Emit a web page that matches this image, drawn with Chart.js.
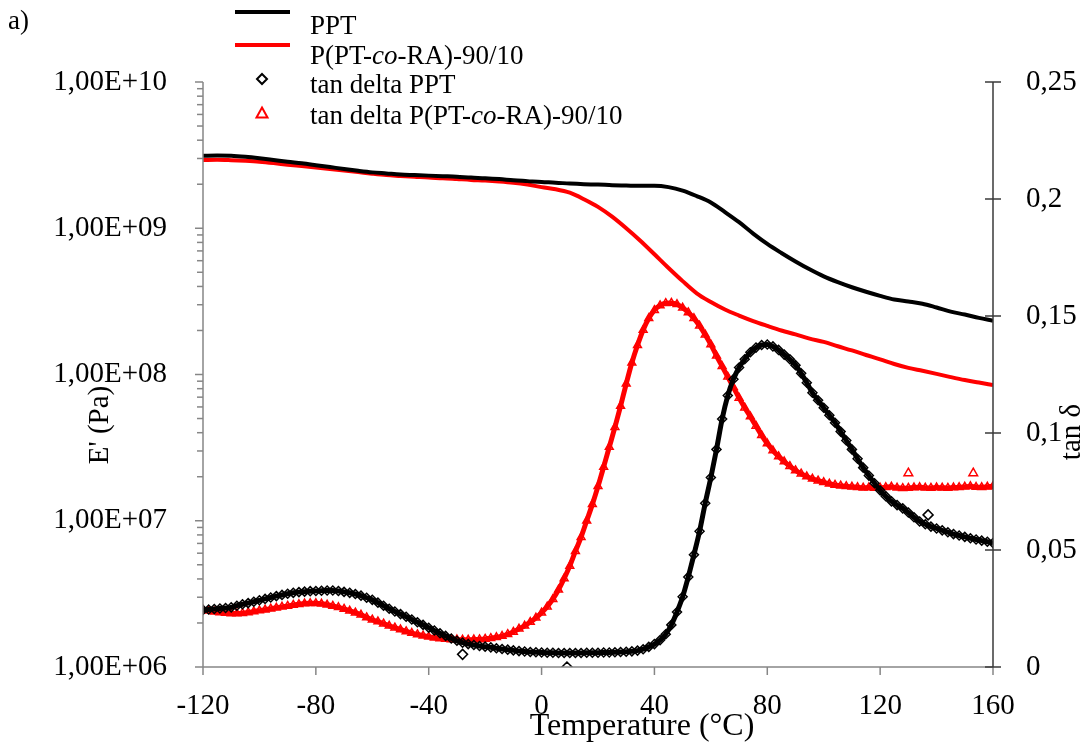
<!DOCTYPE html>
<html>
<head>
<meta charset="utf-8">
<script src="https://cdn.jsdelivr.net/npm/chart.js@4.4.1/dist/chart.umd.min.js"></script>
<style>
  body { margin: 0; background: #fff; }
  canvas { display: block; }
</style>
</head>
<body>
<canvas id="dmaChart" width="1086" height="752"></canvas>
<script>
const tempModule = [-120, -115, -110, -105, -100, -95, -90, -85, -80, -75, -70, -65, -60, -55, -50, -45, -40, -35, -30, -25,
  -20, -15, -10, -5, 0, 5, 10, 15, 20, 25, 30, 35, 40, 45, 50, 55, 60, 65, 70, 75,
  80, 85, 90, 95, 100, 105, 110, 115, 120, 125, 130, 135, 140, 145, 150, 155, 160];
const modulePPT = [3.13e9, 3.14e9, 3.13e9, 3.08e9, 3.01e9, 2.93e9, 2.85e9, 2.78e9, 2.70e9, 2.62e9, 2.54e9, 2.47e9, 2.41e9, 2.37e9, 2.33e9, 2.31e9, 2.29e9, 2.27e9, 2.25e9, 2.22e9,
  2.20e9, 2.17e9, 2.13e9, 2.10e9, 2.07e9, 2.05e9, 2.02e9, 2.00e9, 1.99e9, 1.97e9, 1.96e9, 1.95e9, 1.95e9, 1.91e9, 1.81e9, 1.66e9, 1.50e9, 1.29e9, 1.10e9, 9.2e8,
  7.82e8, 6.78e8, 5.93e8, 5.24e8, 4.69e8, 4.28e8, 3.95e8, 3.68e8, 3.45e8, 3.26e8, 3.16e8, 3.05e8, 2.87e8, 2.69e8, 2.57e8, 2.44e8, 2.33e8];
const moduleCo = [2.93e9, 2.94e9, 2.92e9, 2.89e9, 2.85e9, 2.79e9, 2.72e9, 2.66e9, 2.60e9, 2.54e9, 2.48e9, 2.42e9, 2.36e9, 2.31e9, 2.28e9, 2.25e9, 2.22e9, 2.20e9, 2.17e9, 2.14e9,
  2.12e9, 2.09e9, 2.05e9, 1.99e9, 1.91e9, 1.85e9, 1.75e9, 1.58e9, 1.40e9, 1.20e9, 1.00e9, 8.22e8, 6.64e8, 5.35e8, 4.35e8, 3.59e8, 3.13e8, 2.78e8, 2.53e8, 2.32e8,
  2.15e8, 2.00e8, 1.88e8, 1.76e8, 1.67e8, 1.56e8, 1.46e8, 1.36e8, 1.27e8, 1.18e8, 1.11e8, 1.06e8, 1.01e8, 9.6e7, 9.16e7, 8.81e7, 8.47e7];

// tan delta, lu tous les 2 °C
const tempTan = [-120, -118, -116, -114, -112, -110, -108, -106, -104, -102,
  -100, -98, -96, -94, -92, -90, -88, -86, -84, -82,
  -80, -78, -76, -74, -72, -70, -68, -66, -64, -62,
  -60, -58, -56, -54, -52, -50, -48, -46, -44, -42,
  -40, -38, -36, -34, -32, -30, -28, -26, -24, -22,
  -20, -18, -16, -14, -12, -10, -8, -6, -4, -2,
  0, 2, 4, 6, 8, 10, 12, 14, 16, 18,
  20, 22, 24, 26, 28, 30, 32, 34, 36, 38,
  40, 42, 44, 46, 48, 50, 52, 54, 56, 58,
  60, 62, 64, 66, 68, 70, 72, 74, 76, 78,
  80, 82, 84, 86, 88, 90, 92, 94, 96, 98,
  100, 102, 104, 106, 108, 110, 112, 114, 116, 118,
  120, 122, 124, 126, 128, 130, 132, 134, 136, 138,
  140, 142, 144, 146, 148, 150, 152, 154, 156, 158,
  160];
const tanPPT = [0.0244, 0.0246, 0.0248, 0.0250, 0.0252, 0.0255, 0.0262, 0.0268, 0.0273, 0.0279,
  0.0285, 0.0291, 0.0297, 0.0303, 0.0308, 0.0313, 0.0317, 0.0320, 0.0322, 0.0324,
  0.0325, 0.0326, 0.0327, 0.0327, 0.0325, 0.0321, 0.0317, 0.0312, 0.0305, 0.0296,
  0.0287, 0.0275, 0.0262, 0.0249, 0.0237, 0.0226, 0.0215, 0.0203, 0.0191, 0.0180,
  0.0168, 0.0156, 0.0144, 0.0133, 0.0122, 0.0112, 0.0104, 0.0098, 0.0094, 0.0090,
  0.0087, 0.0084, 0.0080, 0.0077, 0.0074, 0.0071, 0.0068, 0.0066, 0.0064, 0.0063,
  0.0062, 0.0061, 0.0061, 0.0060, 0.0060, 0.0060, 0.0060, 0.0060, 0.0061, 0.0061,
  0.0061, 0.0062, 0.0062, 0.0063, 0.0064, 0.0065, 0.0067, 0.0070, 0.0076, 0.0086,
  0.0098, 0.0115, 0.0140, 0.0180, 0.0235, 0.0300, 0.0385, 0.0480, 0.0580, 0.0700,
  0.0810, 0.0930, 0.1060, 0.1160, 0.1230, 0.1280, 0.1315, 0.1345, 0.1365, 0.1376,
  0.1378, 0.1370, 0.1355, 0.1335, 0.1315, 0.1290, 0.1255, 0.1215, 0.1172, 0.1140,
  0.1108, 0.1076, 0.1044, 0.1006, 0.0968, 0.0930, 0.0890, 0.0852, 0.0818, 0.0785,
  0.0755, 0.0730, 0.0708, 0.0692, 0.0678, 0.0660, 0.0640, 0.0622, 0.0610, 0.0600,
  0.0592, 0.0584, 0.0576, 0.0568, 0.0562, 0.0556, 0.0550, 0.0545, 0.0540, 0.0535,
  0.0530];
const tanCo = [0.0244, 0.0240, 0.0236, 0.0233, 0.0231, 0.0229, 0.0229, 0.0230, 0.0233, 0.0237,
  0.0241, 0.0245, 0.0249, 0.0253, 0.0257, 0.0261, 0.0265, 0.0268, 0.0271, 0.0272,
  0.0272, 0.0270, 0.0266, 0.0261, 0.0255, 0.0248, 0.0240, 0.0232, 0.0223, 0.0212,
  0.0202, 0.0194, 0.0185, 0.0176, 0.0168, 0.0160, 0.0152, 0.0145, 0.0139, 0.0134,
  0.0129, 0.0125, 0.0122, 0.0120, 0.0118, 0.0117, 0.0116, 0.0116, 0.0117, 0.0118,
  0.0120, 0.0123, 0.0127, 0.0132, 0.0140, 0.0150, 0.0163, 0.0176, 0.0192, 0.0210,
  0.0232, 0.0258, 0.0290, 0.0330, 0.0378, 0.0432, 0.0495, 0.0555, 0.0625, 0.0695,
  0.0772, 0.0855, 0.0940, 0.1025, 0.1115, 0.1210, 0.1300, 0.1375, 0.1440, 0.1490,
  0.1525, 0.1545, 0.1555, 0.1556, 0.1550, 0.1535, 0.1515, 0.1490, 0.1458, 0.1420,
  0.1378, 0.1330, 0.1285, 0.1240, 0.1195, 0.1150, 0.1108, 0.1070, 0.1030, 0.0990,
  0.0955, 0.0925, 0.0900, 0.0878, 0.0858, 0.0840, 0.0826, 0.0814, 0.0804, 0.0796,
  0.0789, 0.0783, 0.0778, 0.0775, 0.0772, 0.0770, 0.0768, 0.0766, 0.0767, 0.0765,
  0.0766, 0.0768, 0.0770, 0.0766, 0.0764, 0.0765, 0.0767, 0.0768, 0.0766, 0.0765,
  0.0767, 0.0766, 0.0765, 0.0767, 0.0768, 0.0770, 0.0772, 0.0769, 0.0768, 0.0770,
  0.0772];

// Points isolés (hors de la bande principale)
const tempIsolesPPT = [-28, 9, 137];
const tanIsolesPPT = [0.0054, 0.0, 0.065];
const tempIsolesCo = [130, 153];
const tanIsolesCo = [0.0828, 0.0828];

// Graduations
const xTicks = [-120, -80, -40, 0, 40, 80, 120, 160];
const yTicks = [1e6, 1e7, 1e8, 1e9, 1e10];
const yTickLabels = ['1,00E+06', '1,00E+07', '1,00E+08', '1,00E+09', '1,00E+10'];
const y2Ticks = [0, 0.05, 0.1, 0.15, 0.2, 0.25];
const y2TickLabels = ['0', '0,05', '0,1', '0,15', '0,2', '0,25'];

const POLICE = "'Liberation Serif', 'Times New Roman', serif";
const ROUGE = '#ff0000';

function points(xs, ys) {
    return xs.map((x, i) => ({ x: x, y: ys[i] }));
}

function ligne(ctx, x1, y1, x2, y2) {
    ctx.beginPath();
    ctx.moveTo(x1, y1);
    ctx.lineTo(x2, y2);
    ctx.stroke();
}

function texteMixte(ctx, morceaux, x, y, taille) {
    let cx = x;
    morceaux.forEach(([t, italique]) => {
        ctx.font = (italique ? 'italic ' : '') + taille + 'px ' + POLICE;
        ctx.fillText(t, cx, y);
        cx += ctx.measureText(t).width;
    });
}

function losange(ctx, x, y, r) {
    ctx.beginPath();
    ctx.moveTo(x, y - r);
    ctx.lineTo(x + r, y);
    ctx.lineTo(x, y + r);
    ctx.lineTo(x - r, y);
    ctx.closePath();
    ctx.stroke();
}

function triangle(ctx, x, y, r) {
    ctx.beginPath();
    ctx.moveTo(x, y - r);
    ctx.lineTo(x + r, y + r * 0.8);
    ctx.lineTo(x - r, y + r * 0.8);
    ctx.closePath();
    ctx.stroke();
}

// Axes, graduations, titres et légende dessinés à la main
const habillage = {
    id: 'habillage',
    afterDraw(chart) {
        const ctx = chart.ctx;
        const { left, right, top, bottom } = chart.chartArea;
        const sx = chart.scales.x, sy = chart.scales.y, sy2 = chart.scales.y2;
        ctx.save();

        // axe gauche (log) avec petites graduations
        ctx.strokeStyle = '#868686';
        ctx.lineWidth = 1.5;
        ligne(ctx, left, top, left, bottom);
        yTicks.forEach((v, i) => {
            const py = sy.getPixelForValue(v);
            ligne(ctx, left - 8, py, left, py);
            if (i < yTicks.length - 1) {
                for (let k = 2; k <= 9; k++) {
                    const pm = sy.getPixelForValue(v * k);
                    ligne(ctx, left - 6, pm, left, pm);
                }
            }
        });

        // axe du bas
        ligne(ctx, left, bottom, right, bottom);
        xTicks.forEach(v => {
            const px = sx.getPixelForValue(v);
            ligne(ctx, px, bottom, px, bottom + 8);
        });

        // axe droit
        ctx.strokeStyle = '#3a3a3a';
        ligne(ctx, right, top, right, bottom);
        y2Ticks.forEach(v => {
            const py = sy2.getPixelForValue(v);
            ligne(ctx, right - 8, py, right + 8, py);
        });

        // titres des axes
        ctx.fillStyle = '#000';
        ctx.textAlign = 'center';
        ctx.textBaseline = 'middle';
        ctx.font = '32px ' + POLICE;
        ctx.fillText('Temperature (°C)', 642, 727);
        ctx.font = '29px ' + POLICE;
        ctx.save();
        ctx.translate(100, 425);
        ctx.rotate(-Math.PI / 2);
        ctx.fillText("E' (Pa)", 0, 0);
        ctx.restore();
        ctx.save();
        ctx.translate(1072, 432);
        ctx.rotate(-Math.PI / 2);
        ctx.fillText('tan δ', 0, 0);
        ctx.restore();

        // repère de la figure
        ctx.textAlign = 'left';
        ctx.font = '27px ' + POLICE;
        ctx.fillText('a)', 8, 22);

        // légende
        ctx.lineWidth = 4;
        ctx.strokeStyle = '#000';
        ligne(ctx, 235, 12, 290, 12);
        ctx.strokeStyle = ROUGE;
        ligne(ctx, 235, 45, 290, 45);
        ctx.lineWidth = 2;
        ctx.strokeStyle = '#000';
        losange(ctx, 262, 79, 5);
        ctx.strokeStyle = ROUGE;
        triangle(ctx, 262, 113, 5.5);

        ctx.fillStyle = '#000';
        ctx.textBaseline = 'middle';
        texteMixte(ctx, [['PPT', false]], 310, 27, 27);
        texteMixte(ctx, [['P(PT-', false], ['co', true], ['-RA)-90/10', false]], 310, 57, 27);
        texteMixte(ctx, [['tan delta PPT', false]], 310, 86, 27);
        texteMixte(ctx, [['tan delta P(PT-', false], ['co', true], ['-RA)-90/10', false]], 310, 117, 27);

        ctx.restore();
    }
};

const ctx = document.getElementById('dmaChart').getContext('2d');

new Chart(ctx, {
    type: 'line',
    data: {
        datasets: [
            {
                label: 'PPT',
                data: points(tempModule, modulePPT),
                yAxisID: 'y',
                borderColor: '#000',
                borderWidth: 4,
                pointRadius: 0,
                cubicInterpolationMode: 'monotone'
            },
            {
                label: 'P(PT-co-RA)-90/10',
                data: points(tempModule, moduleCo),
                yAxisID: 'y',
                borderColor: ROUGE,
                borderWidth: 4,
                pointRadius: 0,
                cubicInterpolationMode: 'monotone'
            },
            {
                label: 'tan delta PPT',
                data: points(tempTan, tanPPT),
                yAxisID: 'y2',
                borderColor: '#000',
                borderWidth: 5,
                pointStyle: 'rectRot',
                pointRadius: 4.5,
                pointBorderWidth: 1.5,
                pointBorderColor: '#000',
                pointBackgroundColor: 'rgba(0,0,0,0)',
                cubicInterpolationMode: 'monotone'
            },
            {
                label: 'tan delta P(PT-co-RA)-90/10',
                data: points(tempTan, tanCo),
                yAxisID: 'y2',
                borderColor: ROUGE,
                borderWidth: 5,
                pointStyle: 'triangle',
                pointRadius: 4.5,
                pointBorderWidth: 1.5,
                pointBorderColor: ROUGE,
                pointBackgroundColor: 'rgba(0,0,0,0)',
                cubicInterpolationMode: 'monotone'
            },
            {
                label: 'isolés PPT',
                data: points(tempIsolesPPT, tanIsolesPPT),
                yAxisID: 'y2',
                showLine: false,
                pointStyle: 'rectRot',
                pointRadius: 5,
                pointBorderWidth: 1.5,
                pointBorderColor: '#000',
                pointBackgroundColor: 'rgba(0,0,0,0)'
            },
            {
                label: 'isolés co',
                data: points(tempIsolesCo, tanIsolesCo),
                yAxisID: 'y2',
                showLine: false,
                pointStyle: 'triangle',
                pointRadius: 5,
                pointBorderWidth: 1.5,
                pointBorderColor: ROUGE,
                pointBackgroundColor: 'rgba(0,0,0,0)'
            }
        ]
    },
    options: {
        responsive: false,
        animation: false,
        devicePixelRatio: 1,
        layout: { padding: { top: 82, left: 0, right: 0, bottom: 0 } },
        plugins: {
            legend: { display: false },
            tooltip: { enabled: false }
        },
        scales: {
            x: {
                type: 'linear',
                min: -120,
                max: 160,
                grid: { display: false },
                border: { display: false },
                afterBuildTicks: s => { s.ticks = xTicks.map(v => ({ value: v })); },
                afterFit: s => { s.height = 85; },
                ticks: {
                    autoSkip: false,
                    maxRotation: 0,
                    padding: 14,
                    color: '#000',
                    font: { family: POLICE, size: 29 },
                    callback: v => String(v)
                }
            },
            y: {
                type: 'logarithmic',
                position: 'left',
                min: 1e6,
                max: 1e10,
                grid: { display: false },
                border: { display: false },
                afterBuildTicks: s => { s.ticks = yTicks.map(v => ({ value: v })); },
                afterFit: s => { s.width = 203; },
                ticks: {
                    autoSkip: false,
                    padding: 28,
                    color: '#000',
                    font: { family: POLICE, size: 29 },
                    callback: (v, i) => yTickLabels[i]
                }
            },
            y2: {
                type: 'linear',
                position: 'right',
                min: 0,
                max: 0.25,
                grid: { display: false },
                border: { display: false },
                afterBuildTicks: s => { s.ticks = y2Ticks.map(v => ({ value: v })); },
                afterFit: s => { s.width = 93; },
                ticks: {
                    autoSkip: false,
                    padding: 25,
                    color: '#000',
                    font: { family: POLICE, size: 29 },
                    callback: (v, i) => y2TickLabels[i]
                }
            }
        }
    },
    plugins: [habillage]
});
</script>
</body>
</html>
